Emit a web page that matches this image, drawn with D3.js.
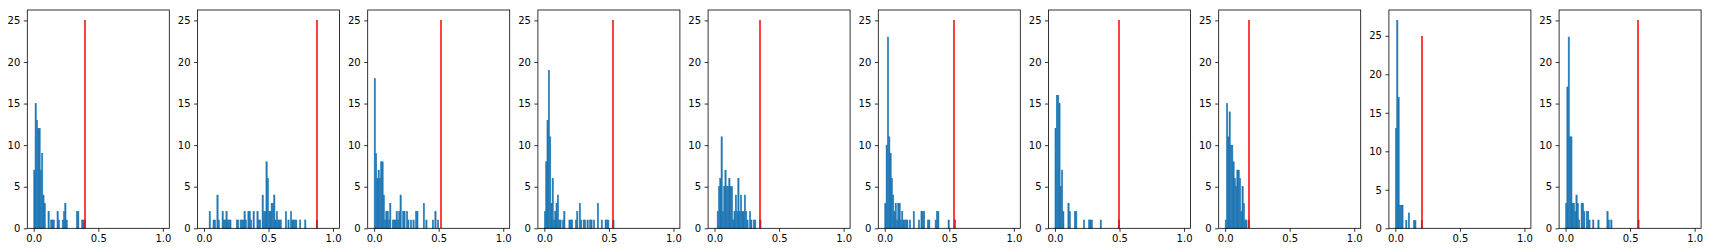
<!DOCTYPE html>
<html>
<head>
<meta charset="utf-8">
<script src="https://cdn.jsdelivr.net/npm/d3@7"></script>
<style>
  body { margin: 0; background: #fff; }
  svg text { font-family: "DejaVu Sans", sans-serif; font-size: 10px; fill: #000; }
</style>
</head>
<body>
<svg id="chart" width="1711" height="252"></svg>
<script>
// histogram counts per panel, [bin left edge, count], bins are 0.01 wide on [0,1]
var hist1 = [[0.00,7],[0.01,15],[0.02,13],[0.03,12],[0.04,12],[0.05,7],[0.06,9],[0.07,4],[0.08,3],
  [0.11,2],[0.13,1],[0.14,1],[0.15,1],[0.18,2],[0.19,1],[0.22,1],[0.23,2],[0.24,3],[0.25,1],
  [0.33,2],[0.34,2],[0.37,1],[0.38,1],[0.39,1]];
var hist2 = [[0.04,2],[0.07,1],[0.08,1],[0.10,4],[0.11,1],[0.14,2],[0.15,1],[0.16,1],[0.17,2],[0.18,1],
  [0.19,1],[0.20,1],[0.25,1],[0.26,1],[0.28,1],[0.29,1],[0.30,1],[0.31,2],[0.32,1],[0.34,2],[0.35,2],
  [0.36,1],[0.38,2],[0.41,2],[0.42,1],[0.43,1],[0.45,4],[0.46,2],[0.47,2],[0.48,8],[0.49,6],[0.50,2],
  [0.51,2],[0.52,3],[0.53,3],[0.54,4],[0.55,1],[0.56,2],[0.57,1],[0.58,1],[0.59,1],[0.63,2],[0.65,1],
  [0.67,2],[0.68,1],[0.69,1],[0.70,1],[0.71,1],[0.74,1],[0.78,1],[0.87,1]];
var hist3 = [[0.00,18],[0.01,9],[0.02,6],[0.03,7],[0.04,6],[0.05,8],[0.06,8],[0.07,4],[0.08,1],[0.09,2],
  [0.10,2],[0.11,1],[0.12,3],[0.14,1],[0.15,1],[0.16,1],[0.17,2],[0.18,1],[0.19,2],[0.20,4],[0.22,2],
  [0.23,2],[0.25,2],[0.26,1],[0.28,1],[0.30,1],[0.32,2],[0.33,2],[0.38,3],[0.40,1],[0.45,1],[0.47,2],
  [0.49,1]];
var hist4 = [[0.00,2],[0.01,8],[0.02,13],[0.03,19],[0.04,11],[0.05,3],[0.06,6],[0.07,1],[0.08,2],[0.09,3],
  [0.10,4],[0.11,1],[0.12,1],[0.14,1],[0.15,2],[0.19,1],[0.20,1],[0.21,1],[0.24,1],[0.25,2],[0.27,3],
  [0.28,1],[0.30,1],[0.31,1],[0.33,1],[0.35,1],[0.36,1],[0.38,1],[0.41,3],[0.44,1],[0.47,1],[0.48,1],
  [0.49,1],[0.53,1]];
var hist5 = [[0.02,2],[0.03,5],[0.04,6],[0.05,11],[0.06,2],[0.07,5],[0.08,7],[0.09,5],[0.10,5],[0.11,6],
  [0.12,5],[0.13,5],[0.14,1],[0.15,2],[0.16,4],[0.17,2],[0.18,6],[0.19,2],[0.20,4],[0.21,2],[0.22,2],
  [0.23,4],[0.24,2],[0.25,1],[0.27,2],[0.28,1],[0.30,1],[0.31,1],[0.35,1]];
var hist6 = [[0.00,3],[0.01,10],[0.02,23],[0.03,11],[0.04,9],[0.05,6],[0.06,4],[0.07,2],[0.08,3],[0.09,1],
  [0.10,3],[0.11,3],[0.12,1],[0.13,2],[0.14,1],[0.15,1],[0.16,1],[0.17,1],[0.19,1],[0.22,2],[0.26,1],
  [0.28,2],[0.29,2],[0.30,2],[0.33,1],[0.34,1],[0.39,1],[0.40,2],[0.41,2],[0.49,1],[0.54,1]];
var hist7 = [[0.00,12],[0.01,16],[0.02,16],[0.03,15],[0.04,5],[0.05,7],[0.06,2],[0.10,3],[0.11,2],
  [0.15,2],[0.16,2],[0.22,1],[0.26,1],[0.27,1],[0.28,1],[0.35,1],[0.49,1]];
var hist8 = [[0.00,1],[0.01,15],[0.02,11],[0.03,14],[0.04,10],[0.05,10],[0.06,8],[0.07,6],[0.08,5],
  [0.09,7],[0.10,7],[0.11,6],[0.12,2],[0.13,5],[0.14,3],[0.15,1],[0.16,1],[0.18,1]];
var hist9 = [[0.00,13],[0.01,27],[0.02,17],[0.03,3],[0.04,3],[0.05,3],[0.08,1],[0.10,2],[0.14,1],
  [0.15,1],[0.20,1]];
var hist10 = [[0.00,3],[0.01,17],[0.02,23],[0.03,11],[0.04,11],[0.05,3],[0.06,3],[0.07,2],[0.08,4],
  [0.09,3],[0.10,1],[0.12,3],[0.13,3],[0.14,2],[0.16,2],[0.17,2],[0.18,1],[0.21,1],[0.25,1],[0.32,2],
  [0.33,1],[0.35,1],[0.56,1]];

var panels = [hist1, hist2, hist3, hist4, hist5, hist6, hist7, hist8, hist9, hist10];
var redValues = [0.39, 0.87, 0.51, 0.53, 0.35, 0.53, 0.49, 0.18, 0.20, 0.56];
var redHeight = 25;
var binWidth = 0.01;
var xTicks = [0, 0.5, 1.0];

var svg = d3.select("#chart"),
  left0 = 27.3,
  step = 170.2,
  w = 142,
  plotTop = 10,
  plotBottom = 228.3,
  h = plotBottom - plotTop;

var x = d3.scaleLinear()
  .domain([-0.05, 1.05])
  .range([0, w]);

panels.forEach(function(data, i) {
  var maxY = Math.max(redHeight, d3.max(data, function(d) { return d[1]; })) * 1.05;
  var y = d3.scaleLinear()
    .domain([0, maxY])
    .range([h, 0]);

  var g = svg.append("g")
    .attr("transform", "translate(" + (left0 + i * step) + "," + plotTop + ")");

  g.selectAll("rect.bar")
    .data(data)
    .enter().append("rect")
    .attr("class", "bar")
    .attr("x", function(d) { return x(d[0]); })
    .attr("width", x(binWidth) - x(0))
    .attr("y", function(d) { return y(d[1]); })
    .attr("height", function(d) { return y(0) - y(d[1]); })
    .attr("fill", "#1f77b4")
    .attr("stroke", "#1f77b4")
    .attr("stroke-width", 0.5);

  // red marker, about 2px wide
  var rx = x(redValues[i] + binWidth / 2);
  g.append("rect")
    .attr("x", Math.round(left0 + i * step + rx - 1) - (left0 + i * step))
    .attr("width", 2)
    .attr("y", y(redHeight))
    .attr("height", y(0) - y(redHeight))
    .attr("fill", "red")
    .attr("opacity", 0.75)
    .attr("shape-rendering", "crispEdges");

  var xAxis = d3.axisBottom(x)
    .tickValues(xTicks)
    .tickFormat(d3.format(".1f"))
    .tickSize(3.5)
    .tickPadding(3.5);
  var yAxis = d3.axisLeft(y)
    .tickValues(d3.range(0, maxY, 5))
    .tickFormat(d3.format("d"))
    .tickSize(3.5)
    .tickPadding(3.5);

  g.append("g")
    .attr("transform", "translate(0," + h + ")")
    .call(xAxis)
    .call(function(s) { s.select(".domain").remove(); });
  g.append("g")
    .call(yAxis)
    .call(function(s) { s.select(".domain").remove(); });

  g.selectAll(".tick line").attr("stroke", "#000").attr("stroke-width", 0.8);
  g.selectAll(".tick text").attr("font-size", 10).attr("font-family", "DejaVu Sans");

  g.append("rect")
    .attr("width", w)
    .attr("height", h)
    .attr("fill", "none")
    .attr("stroke", "#000")
    .attr("stroke-width", 0.8);
});
</script>
</body>
</html>
